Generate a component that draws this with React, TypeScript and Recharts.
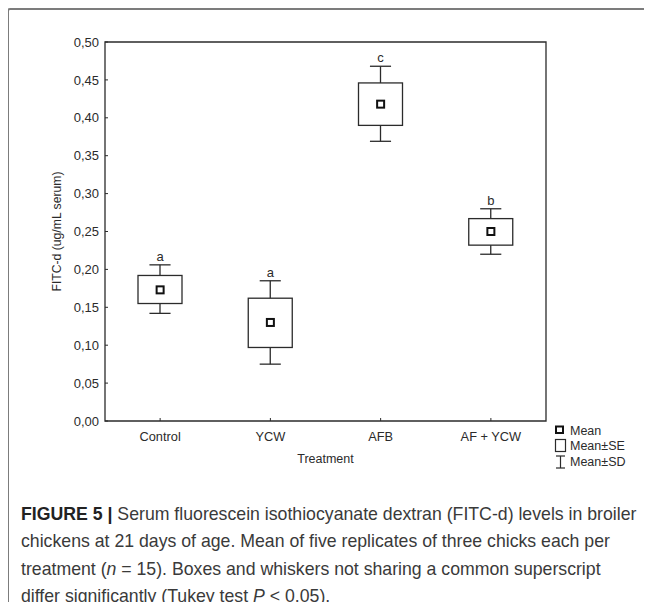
import React from "react";
import {
  ComposedChart,
  Bar,
  Line,
  XAxis,
  YAxis,
  ReferenceArea,
  LabelList,
} from "recharts";

const categories = ["Control", "YCW", "AFB", "AF + YCW"];
const means = [0.173, 0.13, 0.418, 0.25];
const seLow = [0.155, 0.097, 0.39, 0.232];
const seHigh = [0.192, 0.162, 0.446, 0.267];
const sdLow = [0.142, 0.075, 0.369, 0.22];
const sdHigh = [0.206, 0.185, 0.468, 0.28];
const letters = ["a", "a", "c", "b"];
const yTicks = [0, 0.05, 0.1, 0.15, 0.2, 0.25, 0.3, 0.35, 0.4, 0.45, 0.5];

const data = categories.map((name, i) => ({
  name,
  mean: means[i],
  se: [seLow[i], seHigh[i]],
  sd: [sdLow[i], sdHigh[i]],
  letter: letters[i],
}));

const FONT = "'Liberation Sans', Arial, sans-serif";
const INK = "#2b2b2b";

const fmt = (v: number) => v.toFixed(2).replace(".", ",");

const YTick = (props: any) => {
  const { x, y, payload } = props;
  return (
    <g>
      <line x1={x} y1={y} x2={x + 3} y2={y} stroke={INK} strokeWidth={1} />
      <text x={x - 6} y={y + 4.6} textAnchor="end" fontFamily={FONT} fontSize={13} fill={INK}>
        {fmt(payload.value)}
      </text>
    </g>
  );
};

const XTick = (props: any) => {
  const { x, y, payload } = props;
  return (
    <g>
      <line x1={x} y1={y} x2={x} y2={y - 3} stroke={INK} strokeWidth={1} />
      <text x={x} y={y + 20} textAnchor="middle" fontFamily={FONT} fontSize={12.8} fill={INK}>
        {payload.value}
      </text>
    </g>
  );
};

const Whisker = (props: any) => {
  const { x, y, width, height } = props;
  const cx = x + width / 2;
  const cap = width * 0.24;
  return (
    <g stroke={INK} strokeWidth={1.3} fill="none">
      <line x1={cx} y1={y} x2={cx} y2={y + height} />
      <line x1={cx - cap} y1={y} x2={cx + cap} y2={y} />
      <line x1={cx - cap} y1={y + height} x2={cx + cap} y2={y + height} />
    </g>
  );
};

const SEBox = (props: any) => {
  const { x, y, width, height } = props;
  return <rect x={x} y={y} width={width} height={height} fill="#fff" stroke={INK} strokeWidth={1.3} />;
};

const MeanDot = (props: any) => {
  const { cx, cy } = props;
  if (cx == null || cy == null) return null;
  return <rect x={cx - 3.5} y={cy - 3.5} width={7} height={7} fill="#fff" stroke="#111" strokeWidth={2} />;
};

export default function App() {
  return (
    <div style={{ position: "relative", width: 652, height: 610, margin: -8, overflow: "hidden", background: "#fff" }}>
      <div
        style={{
          position: "absolute",
          left: 7,
          top: 8,
          width: 670,
          height: 640,
          border: "2px solid #7c7c7c",
          borderRadius: 3,
          boxSizing: "border-box",
        }}
      />
      <div style={{ position: "absolute", left: 0, top: 0 }}>
        <ComposedChart
          width={652}
          height={480}
          data={data}
          margin={{ top: 42, right: 106, bottom: 29, left: 45 }}
        >
          <YAxis
            domain={[0, 0.5]}
            ticks={yTicks}
            type="number"
            width={60}
            axisLine={false}
            tickLine={false}
            tickSize={0}
            tickMargin={0}
            tick={<YTick />}
            interval={0}
            label={(p: any) => {
              const vb = p.viewBox || {};
              const cx = (vb.x ?? 45) + 12;
              const cy = (vb.y ?? 42) + (vb.height ?? 379) / 2;
              return (
                <text
                  x={cx}
                  y={cy}
                  transform={`rotate(-90 ${cx} ${cy})`}
                  textAnchor="middle"
                  dominantBaseline="central"
                  fontFamily={FONT}
                  fontSize={12.2}
                  fill={INK}
                >
                  FITC-d (ug/mL serum)
                </text>
              );
            }}
          />
          <XAxis
            dataKey="name"
            xAxisId="main"
            axisLine={false}
            tickLine={false}
            tickSize={0}
            tickMargin={0}
            tick={<XTick />}
            interval={0}
            height={30}
            label={(p: any) => {
              const vb = p.viewBox || {};
              const cx = (vb.x ?? 105) + (vb.width ?? 441) / 2;
              const cy = (vb.y ?? 421) + 42;
              return (
                <text x={cx} y={cy} textAnchor="middle" fontFamily={FONT} fontSize={12.5} fill={INK}>
                  Treatment
                </text>
              );
            }}
          />
          <XAxis dataKey="name" xAxisId="box" hide height={0} />
          <ReferenceArea
            xAxisId="main"
            y1={0}
            y2={0.5}
            fill="none"
            stroke={INK}
            strokeWidth={1.3}
            ifOverflow="visible"
          />
          <Bar
            xAxisId="main"
            dataKey="sd"
            barSize={44}
            shape={<Whisker />}
            isAnimationActive={false}
          >
            <LabelList
              dataKey="letter"
              position="top"
              offset={4}
              fontFamily={FONT}
              fontSize={13}
              fill={INK}
            />
          </Bar>
          <Bar
            xAxisId="box"
            dataKey="se"
            barSize={44}
            shape={<SEBox />}
            isAnimationActive={false}
          />
          <Line
            xAxisId="main"
            dataKey="mean"
            stroke="none"
            dot={<MeanDot />}
            activeDot={false}
            isAnimationActive={false}
          />
        </ComposedChart>
      </div>
      <svg
        width={652}
        height={610}
        style={{ position: "absolute", left: 0, top: 0, pointerEvents: "none" }}
      >
        <rect x={556} y={426.5} width={7} height={6.5} fill="#fff" stroke="#111" strokeWidth={2} />
        <text x={570} y={434.5} fontFamily={FONT} fontSize={12.5} fill={INK}>Mean</text>
        <rect x={555.5} y={439.5} width={10} height={12} fill="#fff" stroke={INK} strokeWidth={1.2} />
        <text x={570} y={450} fontFamily={FONT} fontSize={12.5} fill={INK}>Mean±SE</text>
        <g stroke={INK} strokeWidth={1.2}>
          <line x1={560.5} y1={456} x2={560.5} y2={468} />
          <line x1={556} y1={456} x2={565} y2={456} />
          <line x1={556} y1={468} x2={565} y2={468} />
        </g>
        <text x={570} y={465.5} fontFamily={FONT} fontSize={12.5} fill={INK}>Mean±SD</text>
      </svg>
      <div
        style={{
          position: "absolute",
          left: 21,
          top: 501,
          fontFamily: "'Liberation Sans', Arial, sans-serif",
          fontSize: 17.7,
          lineHeight: "27.3px",
          color: "#3a3a3a",
          whiteSpace: "nowrap",
        }}
      >
        <div>
          <b style={{ color: "#222" }}>FIGURE 5 |</b> Serum fluorescein isothiocyanate dextran (FITC-d) levels in broiler
        </div>
        <div>chickens at 21 days of age. Mean of five replicates of three chicks each per</div>
        <div>
          treatment (<i>n</i> = 15). Boxes and whiskers not sharing a common superscript
        </div>
        <div>
          differ significantly (Tukey test <i>P</i> &lt; 0.05).
        </div>
      </div>
    </div>
  );
}
